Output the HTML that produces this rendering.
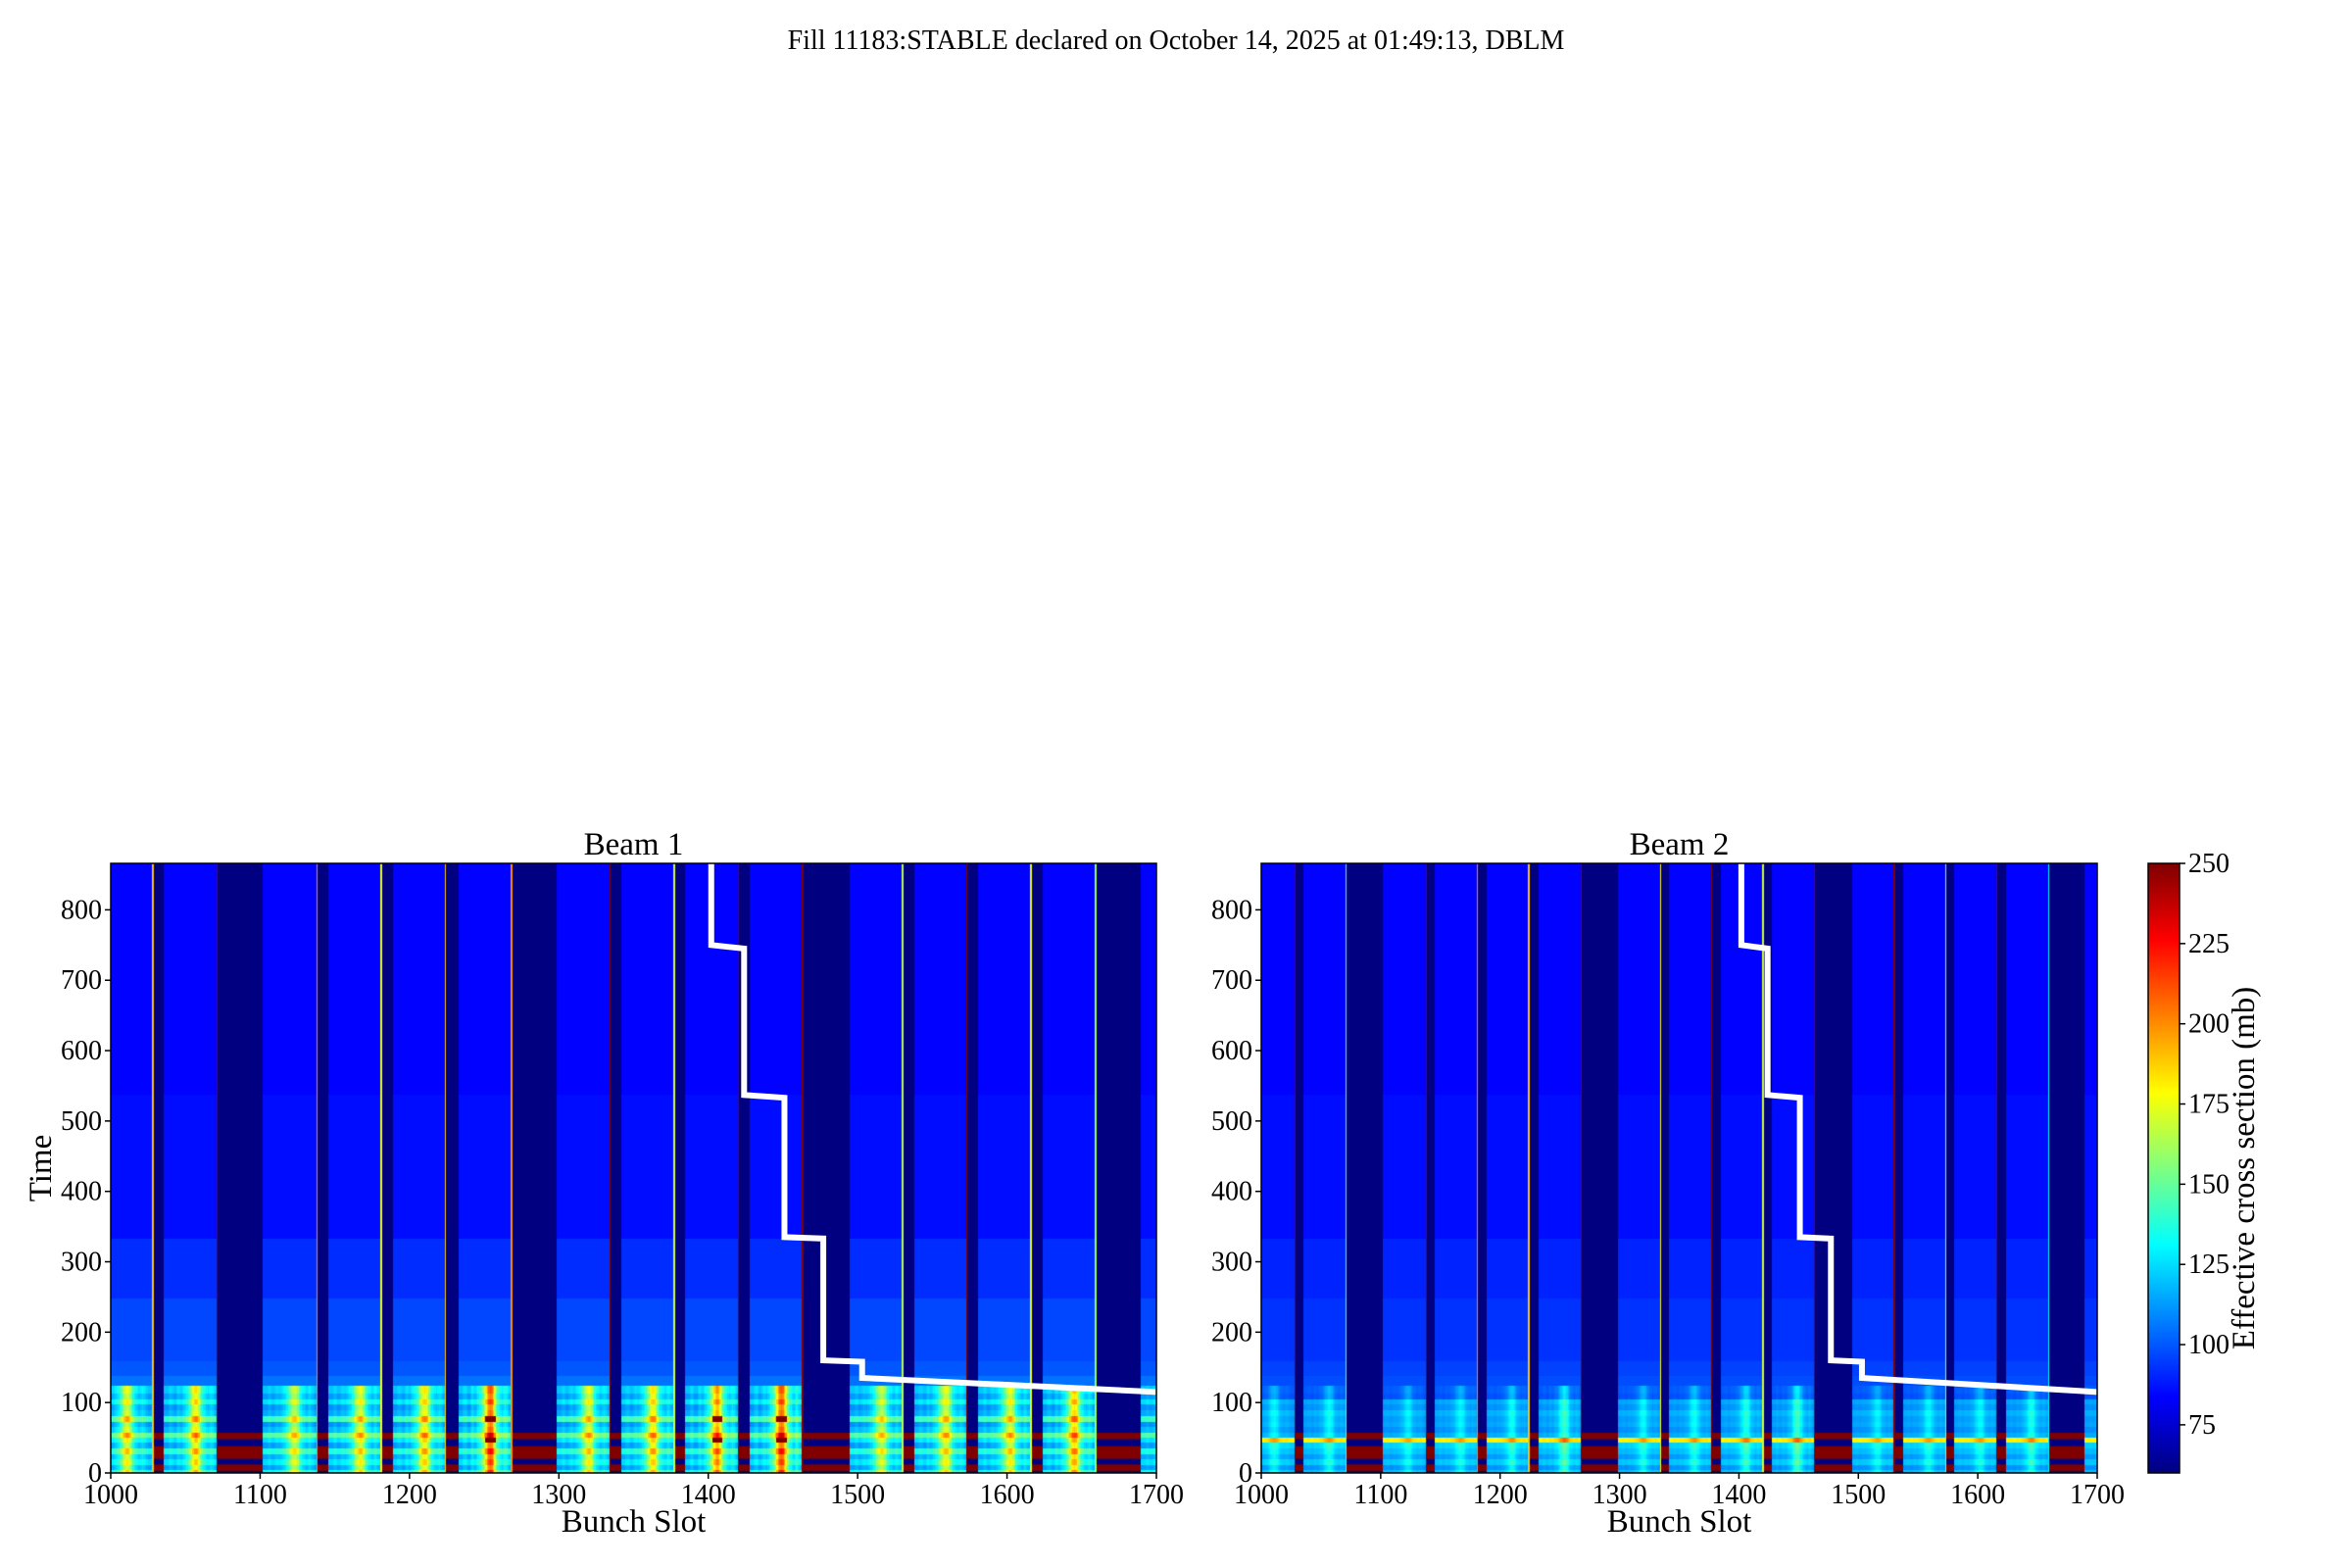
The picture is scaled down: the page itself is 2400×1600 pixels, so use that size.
<!DOCTYPE html>
<html><head><meta charset="utf-8"><style>
body{margin:0;background:#fff;}
#root{position:relative;width:2400px;height:1600px;overflow:hidden;background:#fff;font-family:"Liberation Serif",serif;}
canvas{position:absolute;}
svg{position:absolute;left:0;top:0;}
</style></head><body>
<div id="root">
<canvas id="c1" width="1067" height="622" style="left:113px;top:881px"></canvas>
<canvas id="c2" width="853" height="622" style="left:1287px;top:881px"></canvas>
<canvas id="cb" width="32" height="622" style="left:2192px;top:881px"></canvas>
<svg id="ov" width="2400" height="1600"></svg>
</div>
<script>
// ---- data ----
const trainStart = [990,1036,1102,1146,1189,1233,1299,1342,1385,1428,1495,1538,1581,1624,1690];
const trainEnd   = [1028,1071,1138,1181,1224,1268,1334,1377,1420,1463,1530,1573,1616,1659,1700];
const trainHot   = [0.8,0.9,0.7,0.8,0.9,1.3,0.8,0.9,1.1,1.3,0.7,0.8,0.8,1.0,0.5];
const endLineB1  = [190,250,200,175,190,200,250,170,250,250,165,250,175,160,250];
const endLineB2  = [250,150,250,200,190,250,180,250,170,250,250,160,250,130,250];
const timeEdges  = [0,6,12,20,28,36,44,52,58,66,74,82,90,98,106,114,125,140,160,250,335,540,870];
const b1Vals     = [130,112,125,115,135,112,125,145,118,110,140,115,110,125,112,120,105,100,97,92,86,84];
const b2Vals     = [118,110,120,112,118,122,180,115,110,114,112,116,110,114,98,100,98,96,93,90,86,84];
const redRows1   = [0,0,0,0,0,0,1,0,0,0,1,0,0,0,0,0,0,0,0,0,0,0];
const colBoost   = [0,0,0,2,3,2,0,0,2,4,3,2,4,6,8,10,14,20,26,32,36,38,36,30,22,14,10,8,6,4,6,8,6,4,2,0];
const gapBandsLo = [3,20,48];
const gapBandsHi = [12,38,57];
const gapRed     = 260;
const gapBase    = 55;
const stepSlots  = [1402,1402,1424,1424,1451,1451,1477,1477,1503,1503,1700];
const stepTimes  = [900,750,745,537,533,335,333,160,158,135,115];
const yTicks     = [0,100,200,300,400,500,600,700,800];
const xTicks     = [1000,1100,1200,1300,1400,1500,1600,1700];
const cbTicks    = [75,100,125,150,175,200,225,250];
const vmin = 60, vmax = 250, tMax = 866;

function jet(v){
  let x=(v-vmin)/(vmax-vmin); x=Math.max(0,Math.min(1,x));
  const c=t=>Math.round(255*Math.max(0,Math.min(1,t)));
  return `rgb(${c(1.5-Math.abs(4*x-3))},${c(1.5-Math.abs(4*x-2))},${c(1.5-Math.abs(4*x-1))})`;
}
function cellValue(slot,tIdx,vals,endLine,boostW,redRows){
  const tLo=timeEdges[tIdx];
  for(let k=0;k<trainStart.length;k++){
    if(slot>=trainStart[k]&&slot<=trainEnd[k]){
      if(slot===trainEnd[k]&&trainEnd[k]<1700) return endLine[k];
      let v=vals[tIdx];
      if(tLo<125){
        const b=colBoost[(slot-trainStart[k])%colBoost.length];
        v+=b*boostW*trainHot[k];
        if(redRows&&redRows[tIdx]&&trainHot[k]>1&&b>20) v=255;
      }
      return v;
    }
  }
  return gapBase;
}
function drawHeat(id,vals,endLine,boostW,redRows){
  const cv=document.getElementById(id),ctx=cv.getContext('2d');
  const W=cv.width,H=cv.height;
  const xs=s=>(s-1000)/700*W, ys=t=>H-t/tMax*H;
  for(let s=1000;s<1700;s++){
    const x0=Math.floor(xs(s)),x1=Math.ceil(xs(s+1));
    for(let i=0;i<timeEdges.length-1;i++){
      ctx.fillStyle=jet(cellValue(s,i,vals,endLine,boostW,redRows));
      const y0=ys(timeEdges[i+1]),y1=ys(timeEdges[i]);
      ctx.fillRect(x0,Math.floor(y0),x1-x0,Math.ceil(y1-y0)+1);
    }
    if(cellValue(s,0,vals,endLine,boostW,redRows)===gapBase){
      for(let g=0;g<gapBandsLo.length;g++){
        ctx.fillStyle=jet(gapRed);
        const y0=ys(gapBandsHi[g]),y1=ys(gapBandsLo[g]);
        ctx.fillRect(x0,y0,x1-x0,y1-y0);
      }
    }
  }
}
drawHeat('c1',b1Vals,endLineB1,1.9,redRows1);
drawHeat('c2',b2Vals,endLineB2,0.6,null);
(function(){
  const cv=document.getElementById('cb'),ctx=cv.getContext('2d');
  for(let y=0;y<cv.height;y++){ctx.fillStyle=jet(vmax-(y/cv.height)*(vmax-vmin));ctx.fillRect(0,y,cv.width,1);}
})();

const NS='http://www.w3.org/2000/svg', ov=document.getElementById('ov');
function el(tag,attrs,text){const e=document.createElementNS(NS,tag);for(const k in attrs)e.setAttribute(k,attrs[k]);if(text!==undefined)e.textContent=text;ov.appendChild(e);return e;}

let t=el('text',{x:1200,y:50,'font-size':28,'text-anchor':'middle','font-family':'Liberation Serif, serif'},'Fill 11183:STABLE declared on October 14, 2025 at 01:49:13, DBLM');



function panel(x0,w,name,title,showYLabel){
  const y0=881,h=622;
  const xs=s=>x0+(s-1000)/700*w, ys=v=>y0+h-v/tMax*h;
  const clipId='clip-'+name;
  const cp=document.createElementNS(NS,'clipPath');cp.setAttribute('id',clipId);
  const r=document.createElementNS(NS,'rect');r.setAttribute('x',x0);r.setAttribute('y',y0);r.setAttribute('width',w);r.setAttribute('height',h);cp.appendChild(r);ov.appendChild(cp);
  let pts=stepSlots.map((s,i)=>xs(s)+','+ys(stepTimes[i])).join(' ');
  const pl=el('polyline',{points:pts,fill:'none',stroke:'#fff','stroke-width':6,'clip-path':`url(#${clipId})`});
  
  
  const fr=el('rect',{x:x0,y:y0,width:w,height:h,fill:'none',stroke:'#000','stroke-width':1.5});
  
  
  yTicks.forEach(v=>{
    el('line',{x1:x0-6,x2:x0,y1:ys(v),y2:ys(v),stroke:'#000','stroke-width':1.5});
    const tt=el('text',{x:x0-9,y:ys(v)+9,'font-size':28,'text-anchor':'end'},v);
    
    
  });
  xTicks.forEach(v=>{
    el('line',{x1:xs(v),x2:xs(v),y1:y0+h,y2:y0+h+6,stroke:'#000','stroke-width':1.5});
    const tt=el('text',{x:xs(v),y:y0+h+31,'font-size':28,'text-anchor':'middle'},v);
    
    
  });
  const ti=el('text',{x:x0+w/2,y:y0-9,'font-size':33,'text-anchor':'middle'},title);
  
  
  const xl=el('text',{x:x0+w/2,y:y0+h+60,'font-size':33,'text-anchor':'middle'},'Bunch Slot');
  
  
  if(showYLabel){
    const yl=el('text',{x:0,y:0,'font-size':33,'text-anchor':'middle',transform:`translate(52,${y0+h/2}) rotate(-90)`},'Time');
    
    
  }
}
panel(113,1067,'beam1','Beam 1',true);
panel(1287,853,'beam2','Beam 2',false);

(function(){
  const x0=2192,w=32,y0=881,h=622;
  const ys=v=>y0+h-(v-vmin)/(vmax-vmin)*h;
  el('rect',{x:x0,y:y0,width:w,height:h,fill:'none',stroke:'#000','stroke-width':1.5});
  cbTicks.forEach(v=>{
    el('line',{x1:x0+w,x2:x0+w+6,y1:ys(v),y2:ys(v),stroke:'#000','stroke-width':1.5});
    const tt=el('text',{x:x0+w+9,y:ys(v)+9,'font-size':28},v);
    
    
  });
  const l=el('text',{x:0,y:0,'font-size':33,'text-anchor':'middle',transform:`translate(2300,${y0+h/2}) rotate(-90)`},'Effective cross section (mb)');
  
  
})();
</script>
</body></html>
